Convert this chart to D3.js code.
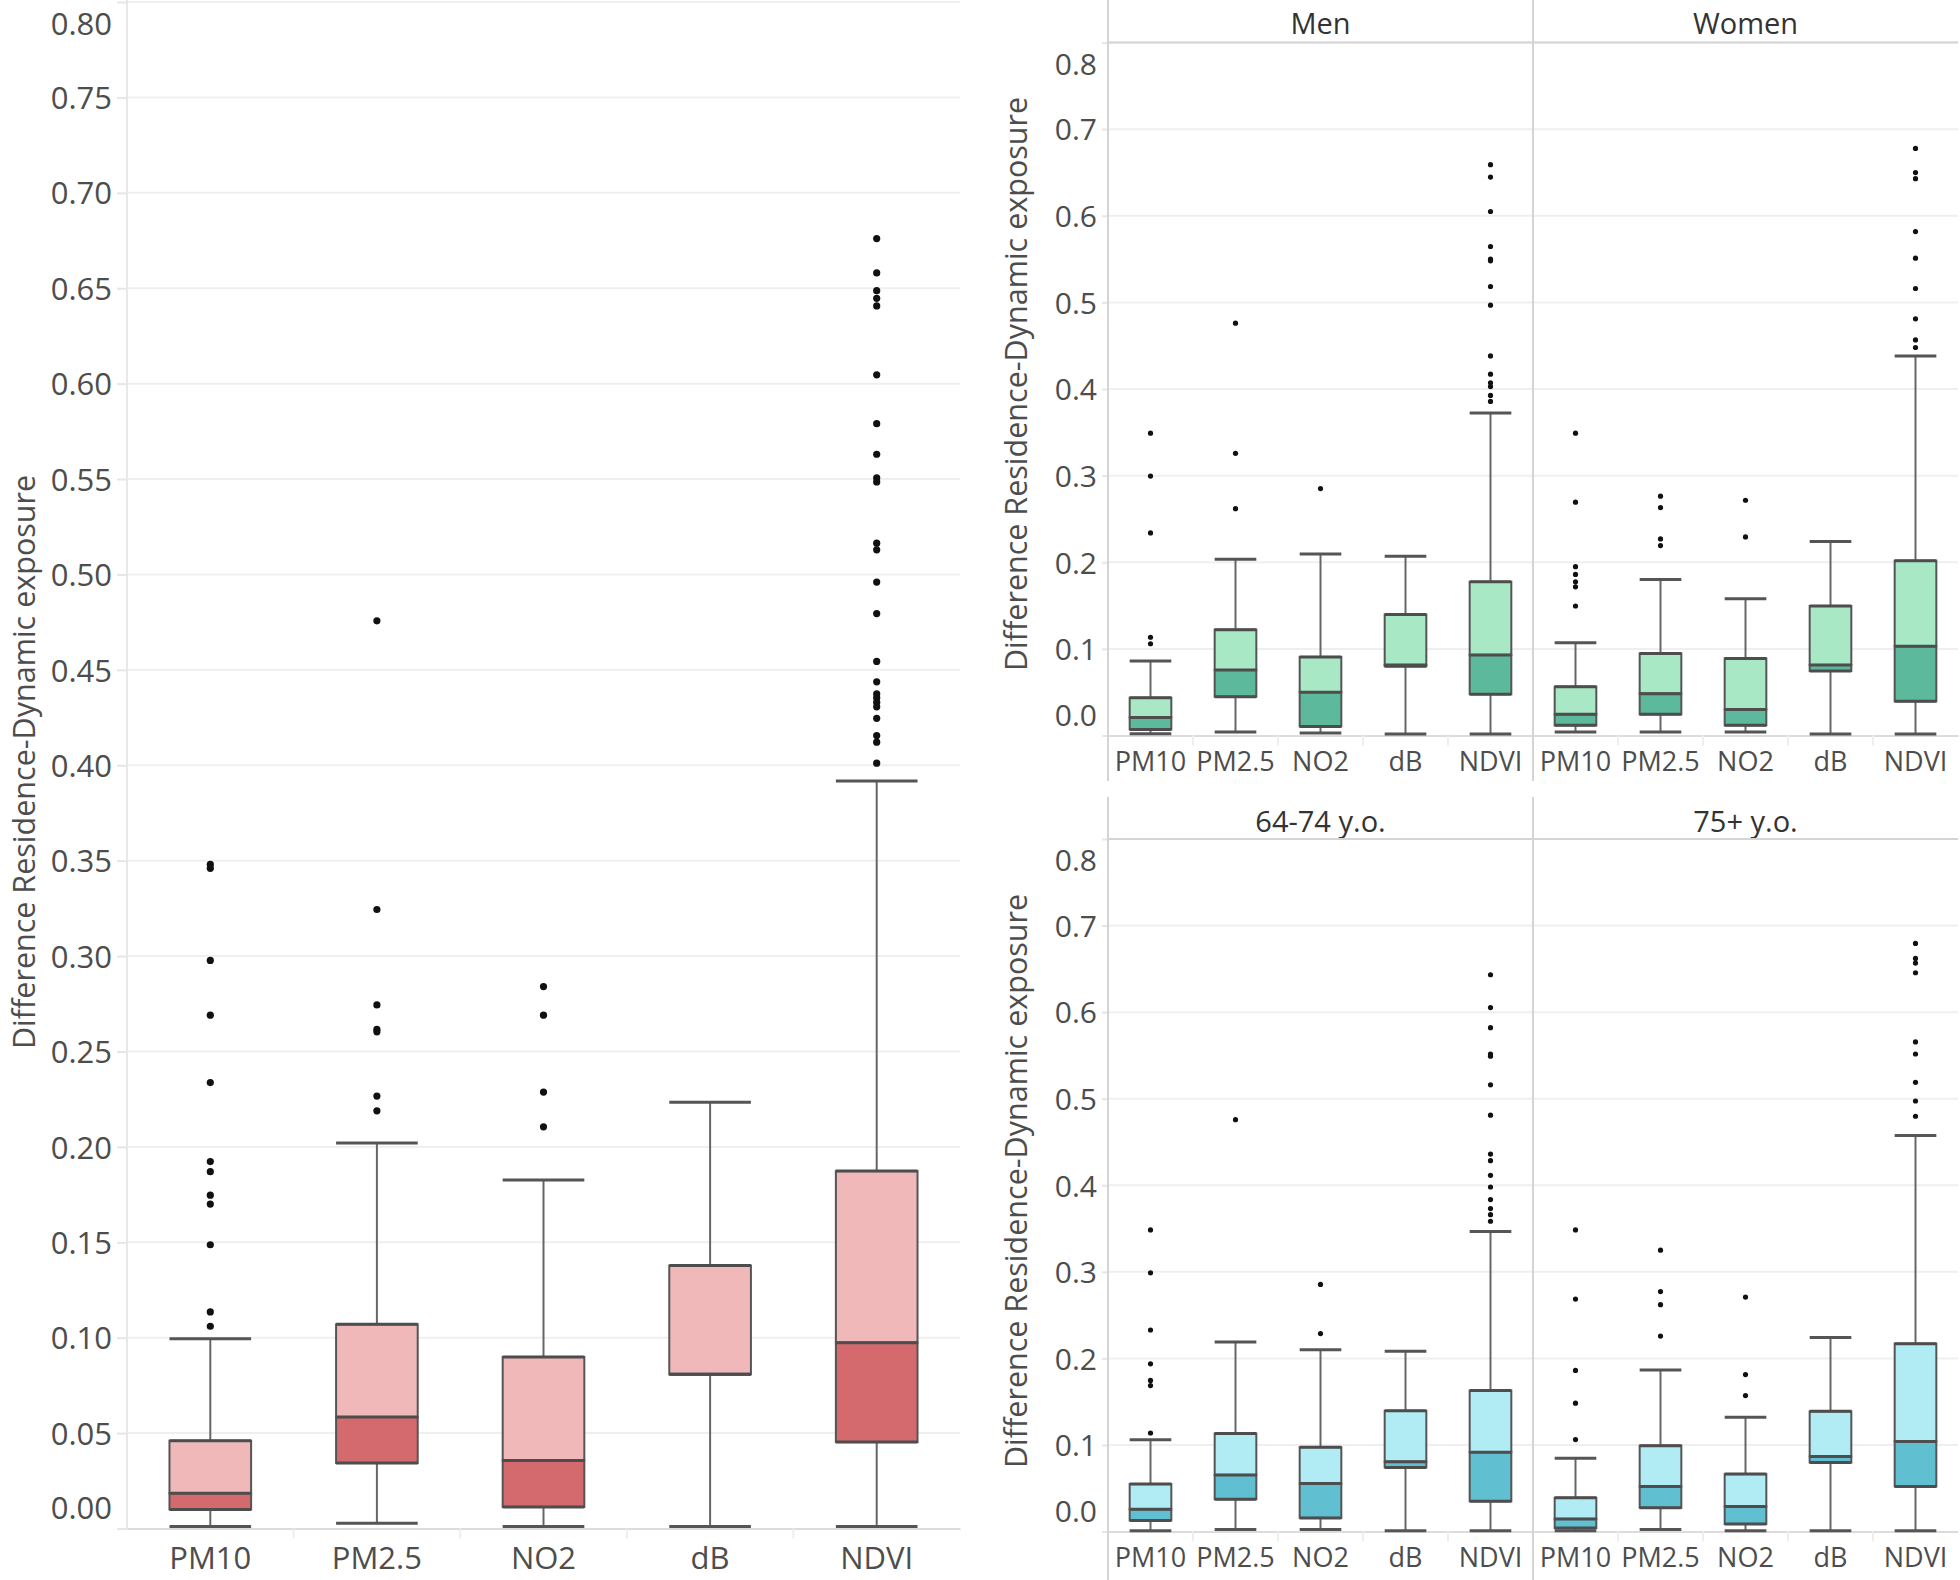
<!DOCTYPE html>
<html lang="en">
<head>
<meta charset="UTF-8" />
<title>Difference Residence-Dynamic exposure</title>
<script src="https://cdn.jsdelivr.net/npm/d3@7"></script>
<style>
    body {
        margin: 0;
        background: #fff;
        font-family: 'Open Sans', sans-serif;
    }

    .tick text {
        fill: #4d4d4d;
        font-family: 'Open Sans', sans-serif;
    }

    .title {
        fill: #4d4d4d;
        font-size: 30.5px;
    }

    .header {
        fill: #333;
        font-size: 29px;
    }
</style>
</head>
<body>
<svg id="chart" width="1960" height="1580"></svg>
<script>
    const categories = ["PM10", "PM2.5", "NO2", "dB", "NDVI"];

    // five numbers per category: [lower whisker, q1, median, q3, upper whisker]
    const allBox = [
        [0.001, 0.010, 0.0185, 0.046, 0.0995],
        [0.0027, 0.0343, 0.0584, 0.107, 0.202],
        [0.001, 0.0113, 0.0356, 0.0899, 0.1827],
        [0.001, 0.0808, 0.0808, 0.1378, 0.2234],
        [0.001, 0.0453, 0.0974, 0.1873, 0.3917]
    ];
    const allOut = [
        [0.348, 0.346, 0.2977, 0.269, 0.2337, 0.1923, 0.187, 0.1747, 0.170, 0.1487, 0.1135, 0.106],
        [0.4757, 0.3244, 0.2744, 0.2616, 0.2603, 0.2266, 0.2189],
        [0.284, 0.269, 0.2287, 0.2105],
        [],
        [0.676, 0.658, 0.6487, 0.6447, 0.6407, 0.6046, 0.579, 0.563, 0.5506, 0.5485, 0.5164, 0.5129,
         0.496, 0.4795, 0.4544, 0.4437, 0.4374, 0.4353, 0.4329, 0.4306, 0.4246, 0.4156, 0.4121, 0.4011]
    ];

    const menBox = [
        [0.002, 0.007, 0.0209, 0.0436, 0.086],
        [0.004, 0.0448, 0.0756, 0.1222, 0.2036],
        [0.003, 0.0105, 0.050, 0.0907, 0.2094],
        [0.0017, 0.080, 0.0814, 0.1396, 0.207],
        [0.0017, 0.0477, 0.093, 0.1774, 0.3724]
    ];
    const menOut = [
        [0.349, 0.2995, 0.2338, 0.1134, 0.1059],
        [0.476, 0.3257, 0.2618],
        [0.285],
        [],
        [0.659, 0.6446, 0.6049, 0.5645, 0.5499, 0.548, 0.5183, 0.4968, 0.4382, 0.4171, 0.4072, 0.4028, 0.3926, 0.3857]
    ];

    const womenBox = [
        [0.004, 0.0117, 0.0244, 0.0564, 0.107],
        [0.004, 0.0244, 0.0483, 0.0948, 0.180],
        [0.004, 0.0117, 0.030, 0.089, 0.158],
        [0.0017, 0.0745, 0.0814, 0.1495, 0.2239],
        [0.0017, 0.0395, 0.103, 0.2018, 0.438]
    ];
    const womenOut = [
        [0.349, 0.2693, 0.1949, 0.186, 0.1774, 0.1716, 0.1495],
        [0.2763, 0.263, 0.2269, 0.2193],
        [0.2716, 0.2292],
        [],
        [0.6777, 0.6498, 0.6428, 0.5817, 0.551, 0.516, 0.481, 0.4567, 0.4479]
    ];

    const youngBox = [
        [0.001, 0.0128, 0.0256, 0.0548, 0.106],
        [0.0023, 0.0373, 0.0653, 0.1132, 0.2189],
        [0.0023, 0.0157, 0.0554, 0.0974, 0.210],
        [0.001, 0.074, 0.0805, 0.1394, 0.2083],
        [0.001, 0.035, 0.0916, 0.1628, 0.3467]
    ];
    const youngOut = [
        [0.3484, 0.2988, 0.2328, 0.1937, 0.1745, 0.1686, 0.1138],
        [0.4757],
        [0.2854, 0.2287],
        [],
        [0.6432, 0.6053, 0.582, 0.5516, 0.549, 0.516, 0.481, 0.436, 0.4284, 0.4115, 0.398, 0.3834, 0.373, 0.366, 0.3584]
    ];

    const oldBox = [
        [0.001, 0.004, 0.0145, 0.039, 0.0846],
        [0.0023, 0.0274, 0.0519, 0.0992, 0.1866],
        [0.001, 0.0087, 0.0288, 0.0663, 0.1319],
        [0.001, 0.0797, 0.0867, 0.1388, 0.2241],
        [0.001, 0.052, 0.104, 0.217, 0.4576]
    ];
    const oldOut = [
        [0.3484, 0.2685, 0.1861, 0.1482, 0.1062],
        [0.325, 0.2772, 0.262, 0.2258],
        [0.2708, 0.1813, 0.157],
        [],
        [0.6794, 0.662, 0.6567, 0.6455, 0.5656, 0.5516, 0.5189, 0.4973, 0.4797]
    ];

    const leftTicks = d3.range(0, 0.8001, 0.05);
    const rightTicks = d3.range(0, 0.8001, 0.1);

    const pink = { light: "#f0b8b9", dark: "#d46a6d" };
    const green = { light: "#a9e8c5", dark: "#5db99c" };
    const cyan = { light: "#b1ebf4", dark: "#60bfd1" };

    const svg = d3.select("#chart");

    function drawPanel(p) {
        const g = svg.append("g");
        const y = d3.scaleLinear().domain([0, 0.8]).range([p.bottom, p.top]);
        const facetW = (p.right - p.left) / p.facets.length;

        // grid
        g.append("g")
            .selectAll("line")
            .data(p.ticks.filter(t => t > 0.0001))
            .join("line")
            .attr("x1", p.left)
            .attr("x2", p.right)
            .attr("y1", d => y(d))
            .attr("y2", d => y(d))
            .attr("stroke", "#efefef")
            .attr("stroke-width", 2);

        // y axis, end labels pushed inside like tableau does
        const yAxis = g.append("g")
            .attr("transform", `translate(${p.left},0)`)
            .call(d3.axisLeft(y).tickValues(p.ticks).tickSize(p.tickLen).tickPadding(p.pad).tickFormat(d3.format(p.fmt)));
        yAxis.select(".domain").remove();
        yAxis.selectAll(".tick line").attr("stroke", "#e6e6e6").attr("stroke-width", 2);
        yAxis.selectAll(".tick text")
            .style("font-size", p.tickFont + "px")
            .attr("dy", "0.36em")
            .attr("y", d => {
                const yy = y(d);
                if (yy < p.top + 21) return p.top + 21 - yy;
                if (yy > p.bottom - 21) return p.bottom - 21 - yy;
                return 0;
            });

        // y title
        g.append("text")
            .attr("class", "title")
            .attr("transform", `translate(${p.titleX},${p.titleY}) rotate(-90)`)
            .attr("text-anchor", "middle")
            .attr("dominant-baseline", "central")
            .text("Difference Residence-Dynamic exposure");

        // left axis line
        g.append("line")
            .attr("x1", p.left).attr("x2", p.left)
            .attr("y1", p.lineTop).attr("y2", p.lineBottom)
            .attr("stroke", p.frame).attr("stroke-width", 2);

        p.facets.forEach((f, i) => {
            const fx = p.left + i * facetW;
            const x = d3.scaleBand().domain(categories).range([fx, fx + facetW]);
            const bw = x.bandwidth() * 0.49;
            const fg = g.append("g");

            if (f.name) {
                fg.append("text")
                    .attr("class", "header")
                    .attr("x", fx + facetW / 2)
                    .attr("y", p.headerY)
                    .attr("text-anchor", "middle")
                    .attr("dominant-baseline", "central")
                    .text(f.name);
                fg.append("line")
                    .attr("x1", fx).attr("x2", fx + facetW)
                    .attr("y1", p.top).attr("y2", p.top)
                    .attr("stroke", p.frame).attr("stroke-width", 2);
                if (i > 0) {
                    fg.append("line")
                        .attr("x1", fx).attr("x2", fx)
                        .attr("y1", p.lineTop).attr("y2", p.lineBottom)
                        .attr("stroke", p.frame).attr("stroke-width", 2);
                }
            }

            // category axis
            const xAxis = fg.append("g")
                .attr("transform", `translate(0,${p.bottom})`)
                .call(d3.axisBottom(x).tickSize(0));
            xAxis.select(".domain").attr("stroke", "#dcdcdc").attr("stroke-width", 2);
            xAxis.selectAll(".tick text")
                .style("font-size", p.catFont + "px")
                .attr("y", p.catOffset)
                .attr("dy", "0.36em");
            fg.append("g")
                .selectAll("line")
                .data(categories.slice(1))
                .join("line")
                .attr("x1", d => x(d)).attr("x2", d => x(d))
                .attr("y1", p.bottom).attr("y2", p.bottom + 10)
                .attr("stroke", "#eeeeee").attr("stroke-width", 2);

            const boxes = fg.selectAll(".box")
                .data(categories.map((c, k) => ({ c, s: f.box[k], o: f.out[k] })))
                .join("g")
                .attr("class", "box");

            // whiskers
            boxes.append("line")
                .attr("x1", d => x(d.c) + x.bandwidth() / 2)
                .attr("x2", d => x(d.c) + x.bandwidth() / 2)
                .attr("y1", d => y(d.s[0]))
                .attr("y2", d => y(d.s[1]))
                .attr("stroke", "#666").attr("stroke-width", 2);
            boxes.append("line")
                .attr("x1", d => x(d.c) + x.bandwidth() / 2)
                .attr("x2", d => x(d.c) + x.bandwidth() / 2)
                .attr("y1", d => y(d.s[3]))
                .attr("y2", d => y(d.s[4]))
                .attr("stroke", "#666").attr("stroke-width", 2);
            [0, 4].forEach(k => {
                boxes.append("line")
                    .attr("x1", d => x(d.c) + (x.bandwidth() - bw) / 2)
                    .attr("x2", d => x(d.c) + (x.bandwidth() + bw) / 2)
                    .attr("y1", d => y(d.s[k]))
                    .attr("y2", d => y(d.s[k]))
                    .attr("stroke", "#555").attr("stroke-width", 3);
            });

            // box halves
            boxes.append("rect")
                .attr("x", d => x(d.c) + (x.bandwidth() - bw) / 2)
                .attr("width", bw)
                .attr("y", d => y(d.s[3]))
                .attr("height", d => y(d.s[2]) - y(d.s[3]))
                .attr("fill", p.color.light)
                .attr("stroke", "#555").attr("stroke-width", 2);
            boxes.append("rect")
                .attr("x", d => x(d.c) + (x.bandwidth() - bw) / 2)
                .attr("width", bw)
                .attr("y", d => y(d.s[2]))
                .attr("height", d => y(d.s[1]) - y(d.s[2]))
                .attr("fill", p.color.dark)
                .attr("stroke", "#555").attr("stroke-width", 2);
            [1, 2, 3].forEach(k => {
                boxes.append("line")
                    .attr("x1", d => x(d.c) + (x.bandwidth() - bw) / 2)
                    .attr("x2", d => x(d.c) + (x.bandwidth() + bw) / 2)
                    .attr("y1", d => y(d.s[k]))
                    .attr("y2", d => y(d.s[k]))
                    .attr("stroke", "#4d4d4d").attr("stroke-width", 3);
            });

            // outliers
            boxes.selectAll("circle")
                .data(d => d.o.map(v => ({ c: d.c, v })))
                .join("circle")
                .attr("cx", d => x(d.c) + x.bandwidth() / 2)
                .attr("cy", d => y(d.v))
                .attr("r", p.dotR)
                .attr("fill", "#111");
        });
    }

    drawPanel({
        left: 127, right: 960, top: 2, bottom: 1528.5,
        lineTop: 0, lineBottom: 1528.5,
        ticks: leftTicks, fmt: ".2f", tickLen: 10, pad: 5, tickFont: 31,
        catFont: 31, catOffset: 29,
        titleX: 23, titleY: 762, headerY: 0, frame: "#e8e8e8",
        color: pink, dotR: 3.6,
        facets: [{ name: null, box: allBox, out: allOut }]
    });

    drawPanel({
        left: 1108, right: 1958, top: 42.5, bottom: 735.5,
        lineTop: 0, lineBottom: 781,
        ticks: rightTicks, fmt: ".1f", tickLen: 6, pad: 5, tickFont: 30,
        catFont: 27, catOffset: 26,
        titleX: 1015, titleY: 384, headerY: 22, frame: "#d4d4d4",
        color: green, dotR: 2.6,
        facets: [
            { name: "Men", box: menBox, out: menOut },
            { name: "Women", box: womenBox, out: womenOut }
        ]
    });

    drawPanel({
        left: 1108, right: 1958, top: 839, bottom: 1531.5,
        lineTop: 797, lineBottom: 1580,
        ticks: rightTicks, fmt: ".1f", tickLen: 6, pad: 5, tickFont: 30,
        catFont: 27, catOffset: 26,
        titleX: 1015, titleY: 1181, headerY: 820, frame: "#d4d4d4",
        color: cyan, dotR: 2.6,
        facets: [
            { name: "64-74 y.o.", box: youngBox, out: youngOut },
            { name: "75+ y.o.", box: oldBox, out: oldOut }
        ]
    });
</script>
</body>
</html>
